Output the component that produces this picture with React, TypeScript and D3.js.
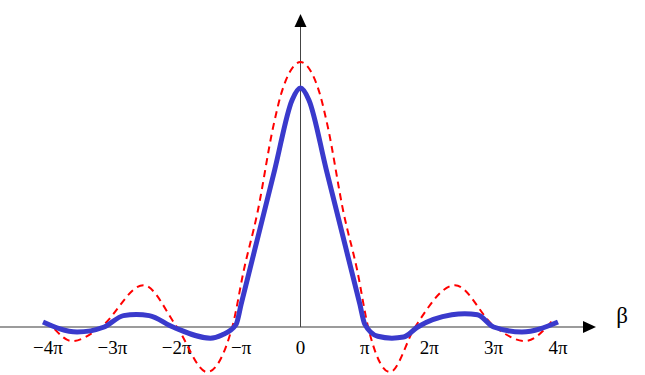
import React, { useEffect, useRef } from "react"
import * as d3 from "d3"

// x in units of pi, y normalised so the dashed peak is 1
const tickValues = [-4, -3, -2, -1, 0, 1, 2, 3, 4]
const tickLabels = ["\u22124\u03c0", "\u22123\u03c0", "\u22122\u03c0", "\u2212\u03c0", "0", "\u03c0", "2\u03c0", "3\u03c0", "4\u03c0"]

const blueX = [-4, -3.47, -3.05, -2.75, -2.55, -2.35, -1.98, -1.4, -1.22, -1.0, -0.92, -0.7, -0.4, -0.13, 0, 0.13, 0.4, 0.7, 0.92, 1.0, 1.2, 1.42, 1.6, 1.82, 2.35, 2.55, 2.75, 3.0, 3.44, 4]
const blueY = [0.019, -0.019, 0, 0.043, 0.047, 0.043, 0, -0.042, -0.03, 0.01, 0.088, 0.302, 0.594, 0.857, 0.902, 0.857, 0.594, 0.302, 0.088, 0.01, -0.035, -0.042, -0.038, 0, 0.046, 0.05, 0.046, 0, -0.019, 0.019]

const redX = [-3.82, -3.55, -3.1, -2.44, -1.92, -1.45, -1.06, -0.88, -0.67, -0.42, -0.3, -0.16, 0, 0.16, 0.3, 0.42, 0.67, 0.88, 1.05, 1.39, 1.78, 2.4, 3.02, 3.49, 3.92]
const redY = [-0.008, -0.053, 0, 0.158, 0, -0.17, 0, 0.215, 0.43, 0.76, 0.88, 0.965, 1, 0.965, 0.88, 0.76, 0.43, 0.215, 0, -0.17, 0, 0.158, 0, -0.053, 0.026]

const W = 645
const H = 375
const FONT = "'Liberation Serif', 'DejaVu Serif', serif"

const Chart = () => {
	const ref = useRef<SVGSVGElement>(null)

	useEffect(() => {
		const svg = d3.select(ref.current)
		svg.selectAll("*").remove()

		const x = d3.scaleLinear().domain([-4, 4]).range([43, 558])
		const y = d3.scaleLinear().domain([0, 1]).range([327, 62])

		// axes
		svg
			.append("line")
			.attr("x1", 0)
			.attr("x2", 586)
			.attr("y1", y(0))
			.attr("y2", y(0))
			.style("stroke", "#7a7a7a")
			.style("stroke-width", 1.5)
		svg
			.append("path")
			.attr("d", `M${596},${y(0)} L${583},${y(0) - 6} L${583},${y(0) + 6} Z`)
			.style("fill", "#000")

		svg
			.append("line")
			.attr("x1", x(0))
			.attr("x2", x(0))
			.attr("y1", y(0))
			.attr("y2", 24)
			.style("stroke", "#444")
			.style("stroke-width", 1)
		svg
			.append("path")
			.attr("d", `M${x(0)},${14} L${x(0) - 6},${27} L${x(0) + 6},${27} Z`)
			.style("fill", "#000")

		// tick labels
		svg
			.selectAll(".tick-label")
			.data(tickValues)
			.join("text")
			.attr("class", "tick-label")
			.attr("x", (d) => x(d) + (d < 0 ? 5 : 0))
			.attr("y", 354)
			.attr("text-anchor", "middle")
			.style("font-family", FONT)
			.style("font-size", "19px")
			.text((d, i) => tickLabels[i])

		svg
			.append("text")
			.attr("x", 622)
			.attr("y", 323)
			.attr("text-anchor", "middle")
			.style("font-family", FONT)
			.style("font-size", "23px")
			.text("\u03b2")

		const line = d3
			.line<[number, number]>()
			.x((d) => x(d[0]))
			.y((d) => y(d[1]))
			.curve(d3.curveMonotoneX)

		svg
			.append("path")
			.datum(redX.map((v, i) => [v, redY[i]] as [number, number]))
			.attr("d", line)
			.style("fill", "none")
			.style("stroke", "#ff0000")
			.style("stroke-width", 2)
			.style("stroke-dasharray", "7,5")

		svg
			.append("path")
			.datum(blueX.map((v, i) => [v, blueY[i]] as [number, number]))
			.attr("d", line)
			.style("fill", "none")
			.style("stroke", "#3a3acc")
			.style("stroke-width", 5)
			.style("stroke-linejoin", "round")
	}, [])

	return (
		<svg
			ref={ref}
			width={W}
			height={H}
			style={{ position: "absolute", left: 0, top: 0, background: "#fff" }}
		></svg>
	)
}

export default function App() {
	return <Chart />
}
